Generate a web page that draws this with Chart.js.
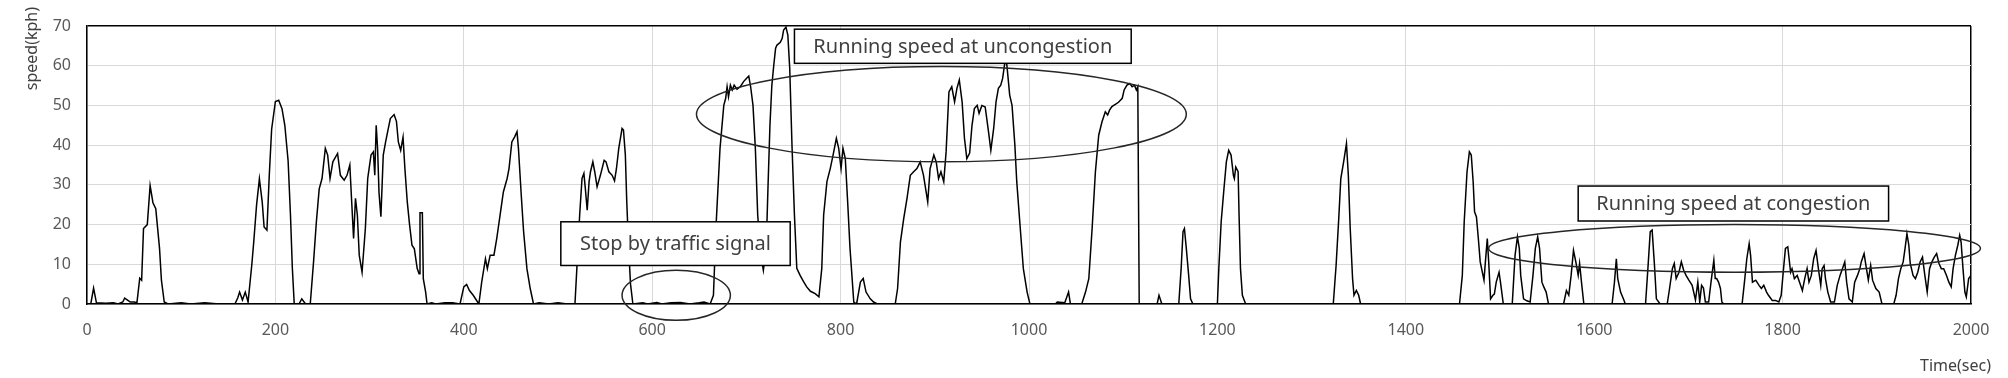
<!DOCTYPE html>
<html>
<head>
<meta charset="utf-8">
<script src="https://cdn.jsdelivr.net/npm/chart.js@4"></script>
<style>
  body { margin: 0; background: #fff; }
</style>
</head>
<body>
<canvas id="speedChart" width="2008" height="378"></canvas>
<script>
// time (sec) and speed (kph)
const tempo = [0,4,7,10,20,28,33,38,40,43,46,50,53,56,58,60,64,67,70,73,77,79,82,86,100,110,125,140,157,160,162,165,168,171,
  175,177,180,183,186,188,191,193.5,196,200,203.5,207,210,213.5,216,218,220,225,228,232,237,240.5,243.5,246.5,249.5,253,255.5,258,261,266,269,273,276,279,281,283,285,287,289,292,295.5,298,301.5,304,305.5,307,308.5,310,312,314.5,317,319.5,322,326,328.5,330.5,333,335.5,337.5,340,342.5,345,347.5,350.5,352.5,353.5,356,357,359.5,361,366,370,380,388,396,
  400,403,406,410,416,419,423,425,428,432,435,439,442,446,448,451,454,456.5,458,461,463.5,467,470.5,474,480,490,500,510,518,
  520,523,525.5,527.5,529,531,533,534.5,537,539,541.5,545,549,551,554,557.5,560,562,564.5,568,569.5,571.5,573,575,577,579.5,590,595,605,610,620,630,640,650,655,661.5,
  665,668,672,676,678,679.5,681,683,685,687,690,693.5,697,700,702.5,704.5,707,709.5,712,715,718,721,723,725,727,729,731,732.5,736,738,739.5,742,744,746,748.5,751,753.5,757,761,764,768,773,777,
  780,782,785.5,789,792,795.5,798,800.5,802.5,805,807.5,810,814,817,821,824,827,831.5,835,839,858,860.5,863.5,867,870.5,874,877.5,881,884.5,888,892.5,895,899,901.5,904,906.5,909.5,912,915,918,921,923.5,926,929,931.5,934,937,939.5,942,945,947,950,953.5,957,959.5,962.5,965,967.5,970,972,974,975,976.5,979.5,982,985,987,991,994,998,1001,
  1028,1030,1038,1042,1044,1056,1060,1063.5,1067,1070.5,1074,1077.5,1081,1083.5,1085.5,1088,1092,1095,1099,1101,1104,1107,1109.5,1112,1114,1115.5,1117,1136,1138,1141,
  1159,1161.5,1163.5,1165,1167,1169.5,1171.5,1174,1200,1201.5,1204,1207,1209.5,1212,1214.5,1217,1218,1219.5,1222,1223,1224.5,1226.5,1230,
  1323,1326,1328.7,1331,1334,1337,1339,1341,1343.5,1345,1347.5,1350,1352,1457,1460,1462,1465,1467.5,1469.5,1471.5,1473,1475,1477,1479,1483,1484.5,1486.5,1488,1490,1492.5,1494,1496,1499,1500.5,1503.5,
  1513,1516,1518.5,1520.5,1522,1525,1528.5,1532,1535,1537.5,1540,1542,1544.5,1546.5,1549,1551.5,1567.5,1570.5,1573,1575.5,1578,1580.5,1583,1584.5,1586.5,1589,1619,1621.5,1623.5,1625,1628,1631.5,1633,
  1654.5,1657,1659.5,1661.5,1664,1666,1670,1677.5,1680,1683,1685,1687,1690,1692.5,1695,1697.5,1700.5,1704,1707.5,1710,1712,1714,1716,1718,1721.5,1724,1727,1728.5,1730,1732,1734,1735.5,1737.5,
  1757,1759.5,1762,1764.5,1766,1768,1771.5,1775,1777.5,1780,1783,1785,1789,1792.5,1796,1798.5,1801,1803,1805.5,1808.5,1810,1812.5,1815.5,1818,1821,1823.5,1826,1828,1830.5,1833,1835.5,1838,1840.5,1842,1844,1845.5,1848,1851,1855,1858,1861,1863.5,1866,1868,1870.5,1874,1876.5,1879.5,1882,1883.5,1886.5,1889,1891,1893.5,1895.5,1899,1902.5,1905.5,
  1918,1920.5,1923,1925.5,1928,1930,1932,1934,1935.5,1938.5,1941,1943.5,1946,1948.5,1951,1953.5,1956,1958.5,1961,1963.5,1966,1968.5,1971,1974,1976.5,1979,1981,1983.5,1986,1988,1989.5,1991.5,1993.5,1995,1997.5,2000];

const velocidade = [0,0,4,0.3,0.2,0.3,0,0.5,1.5,1,0.5,0.5,0.3,6.5,6,19,20,29.8,25.5,24,14,6,0.5,0,0.3,0,0.3,0,0,1.5,3,1,3,0.5,
  10,15.6,24.9,31.5,25.7,19.4,18.6,32.4,44,51,51.3,49.2,45,36,22.4,9,0,0,1.3,0,0,10.6,20.7,29,31.6,39.2,37.5,31.6,35.8,37.9,32.4,31.2,32.4,35,25.7,16.5,26.6,22.4,12.3,8,19,31.6,37.5,38.3,32.4,45,39,28,22,37.5,40.8,43.8,46.7,47.7,46,40.8,38.7,42,34,25.7,19.8,14.8,13.9,9,7.6,23,23,6.4,3,0,0.3,0,0.3,0.3,0,
  4.3,4.9,3.4,2.2,0,5.5,11.4,8.9,12.3,12.3,16.5,23.2,28.2,31.6,34.1,40.8,42.1,43.4,39.2,27.4,18.2,8.9,3.9,0,0.3,0,0.3,0,0,
  8.9,22.4,31.6,32.9,29.1,23.6,30.8,33.3,35.8,33.3,29.5,32.4,36.2,35.8,33.3,32.4,31,34,39.2,44.2,43.8,37.5,25.7,14,5,0,0.3,0,0.4,0,0.3,0.4,0,0.3,0.5,0,
  2.2,20.7,39.2,50,51.8,54.7,52.2,55.1,53.9,55.1,54.1,54.7,56,56.8,57.4,54.7,50,39.2,22.4,13,8.5,14,30,45,55,60,64.4,65.2,65.9,66.9,69,69.7,67.7,59.3,39.2,22.4,9,7.2,5.5,4.3,3.2,2.6,1.8,
  8.9,22.4,30.8,34.1,37.5,41.7,39.2,34.1,39.2,36.6,25.7,14,0.5,0,5.5,6.4,3,1.3,0.5,0,0,3.9,15.6,21.5,26.6,32.4,33.3,34.1,35.8,32.4,25.7,34.1,37.5,35.8,31.6,33.3,30.8,38.3,53.4,54.7,50.9,54.3,56.4,50.9,41.7,36.6,38,45,49.2,50,48,50,49.6,43.4,38.7,44.2,50.9,54.3,55.1,56.8,60.2,61.4,60.2,52.6,50,40,30.8,18.2,8.9,3,0,
  0,0.5,0.3,3,0,0,3,6.4,19,33.3,42.5,45.9,48.4,47.6,48.8,49.7,50.3,50.8,51.8,53.9,55.1,55.5,54.7,55.1,53.9,54.7,0,0,2.2,0,
  0,8.9,18.2,19,14,7.2,1.3,0,0,8.9,20.7,29.1,35.8,38.7,37.5,32.4,31.6,34.5,33.3,22.4,8.9,2.2,0,
  0,9.7,21,31.6,35.8,40.4,32.4,19,6.4,2.2,3.4,2.2,0,0,7.2,20.7,33.3,38.3,37.5,30.8,23.2,21.9,16.5,10.6,6,10.6,16.5,10.6,1.3,2.2,2.5,5.5,8,5.5,0,
  0,12.3,16.9,14,7.2,1.3,0.8,0.5,7.2,14,16.9,14,5.5,4.3,3,0,0,3.4,2.2,7.2,13.5,10.6,7.2,10.2,5.5,0,0,5.5,11.4,6.4,3,1,0,
  0,8.9,18.2,18.6,9.7,1.3,0,0,3.9,8.9,10.2,6.4,8,10.6,8.5,7.2,6,4.7,1,5.5,0.5,4.7,4,0.5,0.5,5.5,11,6.4,6.4,5.5,3.9,0.5,0,
  0,5.5,11.4,15.2,12.3,5.5,6,4.7,3.9,4.7,3,2.2,0.9,0.9,0.5,2.2,8.9,14,14.4,8,8.9,6.4,7.2,5.5,3.4,6.4,8.9,5.5,7.2,11.4,13.5,8.9,4.7,8.9,9.7,6.4,3,0.5,0.5,4.7,7.2,8.9,10.6,5.5,1.3,0.5,5.5,7.2,8.9,10.6,12.7,8.9,6,9.7,6,3.9,3,0,
  0,2.2,6.4,8.9,10.6,14,17.7,14.8,10.2,7.2,6.4,8,10.6,11.8,7.2,3,8.9,10.6,11.8,12.7,10.2,8.9,8.9,7.2,5.5,4.3,8.9,12.3,14.8,17.3,15.6,8.9,3,1.8,6.4,7.2];

const ticksTempo = [0, 200, 400, 600, 800, 1000, 1200, 1400, 1600, 1800, 2000];
const ticksVelocidade = [0, 10, 20, 30, 40, 50, 60, 70];

// callouts, placed in data units (time, speed)
const notas = [
  { texto: 'Running speed at uncongestion', t0: 751, t1: 1108.5, v0: 69.2, v1: 60.6 },
  { texto: 'Stop by traffic signal', t0: 503, t1: 746.5, v0: 20.7, v1: 9.7 },
  { texto: 'Running speed at congestion', t0: 1583, t1: 1912.5, v0: 29.7, v1: 20.9 }
];
const elipses = [
  { t: 907, v: 47.8, rt: 260, rv: 12 },
  { t: 625.5, v: 2.2, rt: 57.5, rv: 6.3 },
  { t: 1749, v: 14, rt: 261, rv: 6 }
];

const fonte = '"Noto Sans", "Open Sans", sans-serif';

const pontos = tempo.map((t, i) => ({ x: t, y: velocidade[i] }));

// draws axis titles, ellipses and text boxes
const anotacoes = {
  id: 'anotacoes',
  afterDatasetsDraw(chart) {
    const ctx = chart.ctx;
    const sx = chart.scales.x;
    const sy = chart.scales.y;
    ctx.save();

    ctx.strokeStyle = '#262626';
    ctx.lineWidth = 1.5;
    elipses.forEach(e => {
      const cx = sx.getPixelForValue(e.t);
      const cy = sy.getPixelForValue(e.v);
      const rx = sx.getPixelForValue(e.t + e.rt) - cx;
      const ry = cy - sy.getPixelForValue(e.v + e.rv);
      ctx.beginPath();
      ctx.ellipse(cx, cy, rx, ry, 0, 0, Math.PI * 2);
      ctx.stroke();
    });

    notas.forEach(n => {
      const x0 = sx.getPixelForValue(n.t0);
      const x1 = sx.getPixelForValue(n.t1);
      const y0 = sy.getPixelForValue(n.v0);
      const y1 = sy.getPixelForValue(n.v1);
      ctx.fillStyle = '#fff';
      ctx.fillRect(x0, y0, x1 - x0, y1 - y0);
      ctx.strokeStyle = '#000';
      ctx.lineWidth = 1.5;
      ctx.strokeRect(x0, y0, x1 - x0, y1 - y0);
      ctx.fillStyle = '#404040';
      ctx.font = '20px ' + fonte;
      ctx.textAlign = 'center';
      ctx.textBaseline = 'middle';
      ctx.fillText(n.texto, (x0 + x1) / 2, (y0 + y1) / 2 + 1);
    });

    // axis titles
    ctx.fillStyle = '#404040';
    ctx.font = '16px ' + fonte;
    ctx.textAlign = 'right';
    ctx.textBaseline = 'middle';
    ctx.fillText('Time(sec)', 1991, 366);
    ctx.translate(32, 7);
    ctx.rotate(-Math.PI / 2);
    ctx.fillText('speed(kph)', 0, 0);
    ctx.restore();
  }
};

const config = {
  type: 'line',
  data: {
    datasets: [{
      data: pontos,
      borderColor: '#000',
      borderWidth: 1.5,
      pointRadius: 0,
      tension: 0,
      fill: false
    }]
  },
  options: {
    responsive: false,
    devicePixelRatio: 1,
    animation: false,
    layout: { padding: { left: 0, right: 37, top: 26, bottom: 0 } },
    plugins: {
      legend: { display: false },
      tooltip: { enabled: false }
    },
    scales: {
      x: {
        type: 'linear',
        min: 0,
        max: 2000,
        afterBuildTicks: s => { s.ticks = ticksTempo.map(v => ({ value: v })); },
        afterFit: s => { s.height = 74; },
        grid: {
          color: c => (c.tick && c.tick.value === 2000) ? '#000' : '#d9d9d9',
          lineWidth: c => (c.tick && c.tick.value === 2000) ? 1.5 : 1,
          drawTicks: false
        },
        border: { color: '#000', width: 1.5 },
        ticks: {
          color: '#595959',
          font: { family: fonte, size: 16 },
          padding: 17,
          maxRotation: 0,
          callback: v => String(v)
        }
      },
      y: {
        min: 0,
        max: 70,
        afterBuildTicks: s => { s.ticks = ticksVelocidade.map(v => ({ value: v })); },
        afterFit: s => { s.width = 87; },
        grid: {
          color: c => (c.tick && c.tick.value === 70) ? '#000' : '#d9d9d9',
          lineWidth: c => (c.tick && c.tick.value === 70) ? 1.5 : 1,
          drawTicks: false
        },
        border: { color: '#000', width: 1.5 },
        ticks: {
          color: '#595959',
          font: { family: fonte, size: 16 },
          padding: 16,
          callback: v => String(v)
        }
      }
    }
  },
  plugins: [anotacoes]
};

document.addEventListener('DOMContentLoaded', function() {
  const ctx = document.getElementById('speedChart').getContext('2d');
  new Chart(ctx, config);
});
</script>
</body>
</html>
